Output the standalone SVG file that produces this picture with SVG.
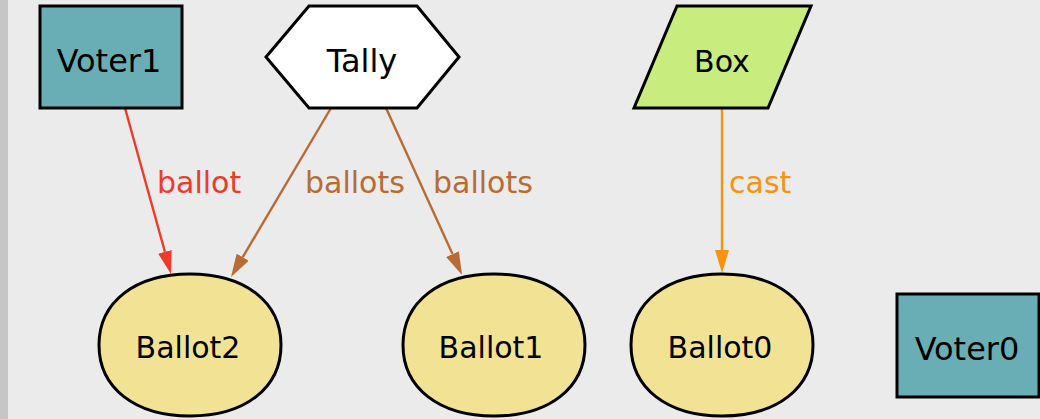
<svg xmlns="http://www.w3.org/2000/svg" width="1040" height="419" viewBox="0 0 1040 419">
  <style>
    text { font-family: "DejaVu Sans", "Noto Sans", sans-serif; font-size: 30px; fill: #000; }
    .node-label { text-anchor: middle; }
    .big { font-size: 32px; }
    .edge-label { font-size: 30px; }
    .voter { fill: #6aaeb5; stroke: #000; stroke-width: 3; }
    .tally { fill: #ffffff; stroke: #000; stroke-width: 3; }
    .box { fill: #c8ec7e; stroke: #000; stroke-width: 3; }
    .ballot { fill: #f2e394; stroke: #000; stroke-width: 3; }
    .edge { fill: none; stroke-width: 2.4; }
    .red { stroke: #ee3a2b; }
    .brown { stroke: #b86b34; }
    .orange { stroke: #f7930f; }
    .lbl-red { fill: #ee3a2b; }
    .lbl-brown { fill: #b86b34; }
    .lbl-orange { fill: #f7930f; }
  </style>
  <defs>
    <marker id="arrow-red" markerUnits="userSpaceOnUse" markerWidth="24" markerHeight="16" refX="0" refY="7" orient="auto">
      <path d="M0,0 L23,7 L0,14 z" fill="#ee3a2b"/>
    </marker>
    <marker id="arrow-brown" markerUnits="userSpaceOnUse" markerWidth="24" markerHeight="16" refX="0" refY="7" orient="auto">
      <path d="M0,0 L23,7 L0,14 z" fill="#b86b34"/>
    </marker>
    <marker id="arrow-orange" markerUnits="userSpaceOnUse" markerWidth="24" markerHeight="16" refX="0" refY="7" orient="auto">
      <path d="M0,0 L23,7 L0,14 z" fill="#f7930f"/>
    </marker>
  </defs>

  <!-- canvas -->
  <rect x="0" y="0" width="1040" height="419" fill="#ebebeb"/>
  <rect x="0" y="0" width="8" height="419" fill="#c6c6c6"/>

  <!-- connectors -->
  <g id="edges">
    <line class="edge red" x1="125" y1="108" x2="164.9" y2="251.8" marker-end="url(#arrow-red)"/>
    <text class="edge-label lbl-red" x="157" y="193">ballot</text>
    <line class="edge brown" x1="331" y1="108" x2="242.7" y2="257.2" marker-end="url(#arrow-brown)"/>
    <text class="edge-label lbl-brown" x="305" y="193">ballots</text>
    <line class="edge brown" x1="386" y1="108" x2="452.5" y2="254.1" marker-end="url(#arrow-brown)"/>
    <text class="edge-label lbl-brown" x="433" y="193">ballots</text>
    <line class="edge orange" x1="722" y1="108" x2="722" y2="250" marker-end="url(#arrow-orange)"/>
    <text class="edge-label lbl-orange" x="729" y="193">cast</text>
  </g>

  <!-- nodes -->
  <g id="Voter1">
    <rect class="voter" x="40" y="6" width="142" height="102"/>
    <text class="node-label big" x="109" y="72">Voter1</text>
  </g>
  <g id="Tally">
    <polygon class="tally" points="266,57 309,6 417,6 459,57 417,108 309,108"/>
    <text class="node-label big" x="362" y="72">Tally</text>
  </g>
  <g id="Box">
    <polygon class="box" points="677,6 811,6 768,108 634,108"/>
    <text class="node-label" x="722" y="72">Box</text>
  </g>
  <g id="Ballot2">
    <path class="ballot" d="M99,345 C99,302 135,274 190,274 C245,274 281,302 281,345 C281,388 245,416 190,416 C135,416 99,388 99,345 Z"/>
    <text class="node-label" x="188" y="358">Ballot2</text>
  </g>
  <g id="Ballot1">
    <path class="ballot" d="M403,345 C403,302 439,274 494,274 C549,274 585,302 585,345 C585,388 549,416 494,416 C439,416 403,388 403,345 Z"/>
    <text class="node-label" x="491" y="358">Ballot1</text>
  </g>
  <g id="Ballot0">
    <path class="ballot" d="M631,345 C631,302 667,274 722,274 C777,274 813,302 813,345 C813,388 777,416 722,416 C667,416 631,388 631,345 Z"/>
    <text class="node-label" x="720" y="358">Ballot0</text>
  </g>
  <g id="Voter0">
    <rect class="voter" x="897" y="294" width="142" height="103"/>
    <text class="node-label big" x="967" y="360">Voter0</text>
  </g>
</svg>
